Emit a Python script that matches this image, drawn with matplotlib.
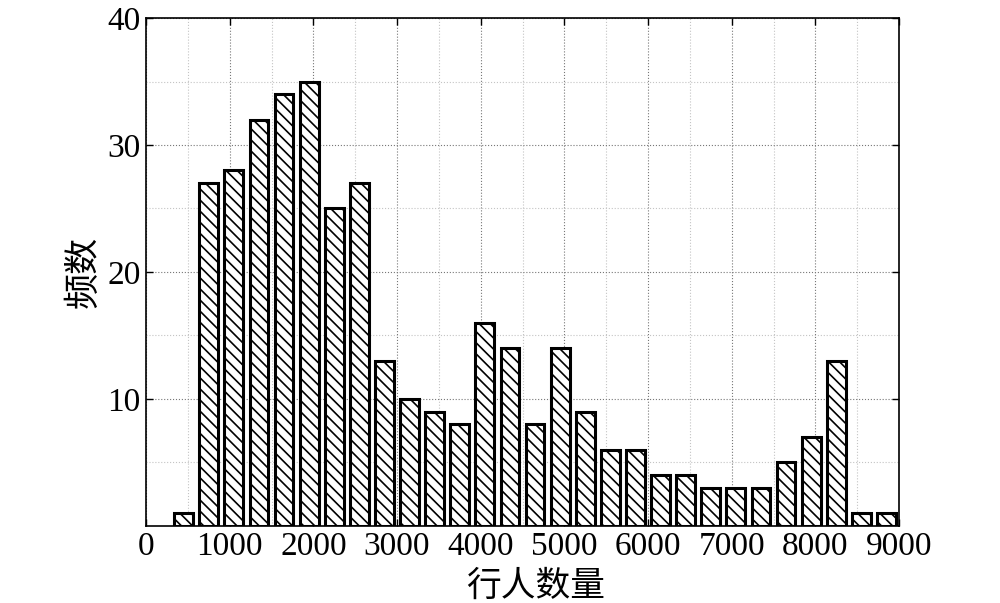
import matplotlib
matplotlib.use("Agg")
import matplotlib.pyplot as plt
from matplotlib.ticker import MultipleLocator
import numpy as np

# 数据：直方图各组的中心与频数
bin_centers = [450, 750, 1050, 1350, 1650, 1950, 2250, 2550, 2850, 3150,
               3450, 3750, 4050, 4350, 4650, 4950, 5250, 5550, 5850, 6150,
               6450, 6750, 7050, 7350, 7650, 7950, 8250, 8550, 8850]
counts = [1, 27, 28, 32, 34, 35, 25, 27, 13, 10,
          9, 8, 16, 14, 8, 14, 9, 6, 6, 4,
          4, 3, 3, 3, 5, 7, 13, 1, 1]
x_ticks = [0, 1000, 2000, 3000, 4000, 5000, 6000, 7000, 8000, 9000]
y_ticks = [10, 20, 30, 40]

plt.rcParams['font.family'] = ['Liberation Serif', 'Noto Sans CJK SC']
plt.rcParams['hatch.linewidth'] = 1.2

fig = plt.figure(figsize=(10, 6.03), dpi=100, facecolor='white')
ax = fig.add_axes([0.146, 0.128, 0.753, 0.842])

ax.bar(bin_centers, counts, width=225, facecolor='white', edgecolor='black',
       linewidth=2.2, hatch='\\\\\\', zorder=3)

ax.set_xlim(0, 9000)
ax.set_ylim(0, 40)
ax.set_xticks(x_ticks)
ax.set_xticklabels([str(v) for v in x_ticks])
ax.set_yticks(y_ticks)
ax.set_yticklabels([str(v) for v in y_ticks])
ax.xaxis.set_minor_locator(MultipleLocator(500))
ax.yaxis.set_minor_locator(MultipleLocator(5))

ax.grid(which='major', linestyle=':', color='#777777', linewidth=0.8, zorder=0)
ax.grid(which='minor', linestyle=':', color='#c4c4c4', linewidth=0.8, zorder=0)
ax.set_axisbelow(True)

ax.tick_params(which='major', direction='in', length=5, width=1,
               top=True, right=True, labelsize=24, pad=4)
ax.tick_params(which='minor', length=0)
for s in ax.spines.values():
    s.set_linewidth(1.2)

ax.set_xlabel('行人数量', family=['Noto Sans CJK SC'], fontsize=25)
ax.xaxis.set_label_coords(0.518, -0.085)
ax.set_ylabel('频数', family=['Noto Sans CJK SC'], fontsize=26, labelpad=4)

plt.savefig('out.png', dpi=100)
